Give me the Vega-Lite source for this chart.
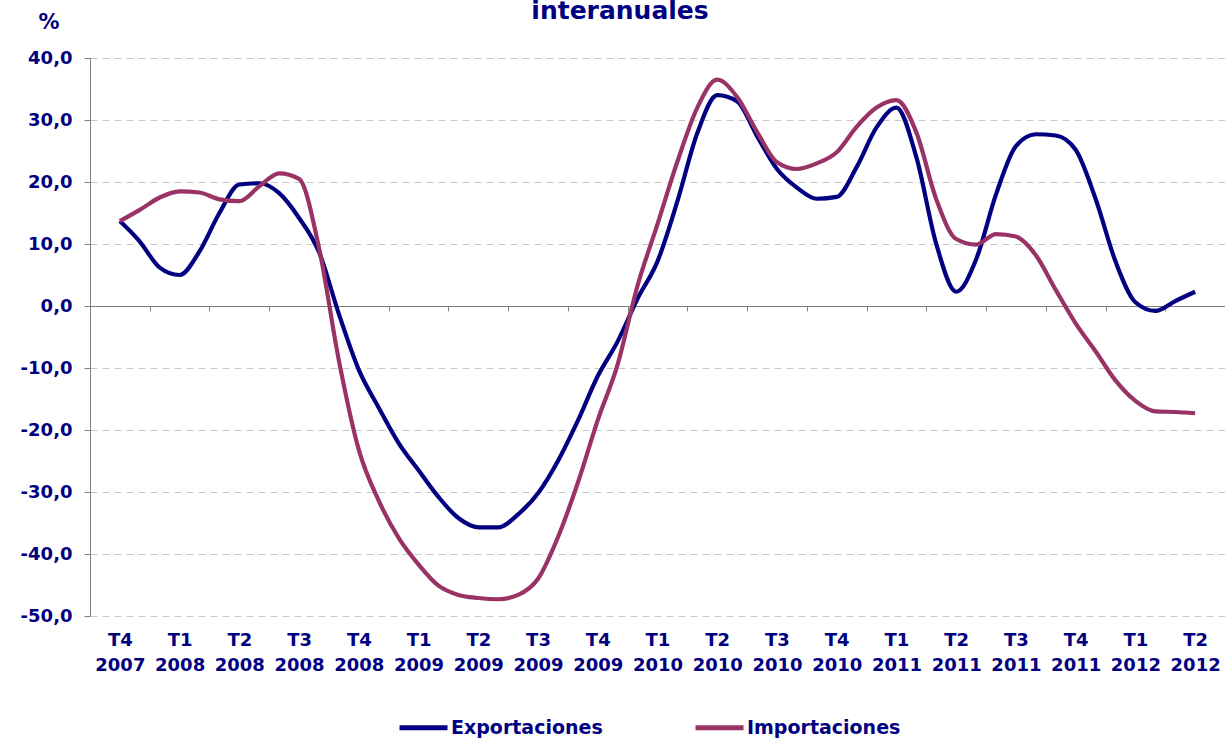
{
  "$schema": "https://vega.github.io/schema/vega-lite/v6.json",
  "autosize": {"type": "none"},
  "width": 1135,
  "height": 558,
  "padding": {"left": 90, "top": 58, "right": 0, "bottom": 122},
  "background": "white",
  "config": {"view": {"stroke": null}, "font": "DejaVu Sans"},
  "title": {
    "text": "interanuales",
    "anchor": "middle",
    "frame": "group",
    "dx": -37.5,
    "offset": -33,
    "baseline": "alphabetic",
    "font": "DejaVu Sans",
    "fontSize": 25,
    "fontWeight": "bold",
    "color": "#000080"
  },
  "data": {"values": [
    {"mes":0,"serie":"Exportaciones","valor":13.7},{"mes":1,"serie":"Exportaciones","valor":10.4},{"mes":2,"serie":"Exportaciones","valor":6.2},{"mes":3,"serie":"Exportaciones","valor":5.0},{"mes":4,"serie":"Exportaciones","valor":8.8},{"mes":5,"serie":"Exportaciones","valor":15.0},{"mes":6,"serie":"Exportaciones","valor":19.6},{"mes":7,"serie":"Exportaciones","valor":19.8},{"mes":8,"serie":"Exportaciones","valor":18.2},{"mes":9,"serie":"Exportaciones","valor":14.2},{"mes":10,"serie":"Exportaciones","valor":8.7},{"mes":11,"serie":"Exportaciones","valor":-1.3},{"mes":12,"serie":"Exportaciones","valor":-10.3},{"mes":13,"serie":"Exportaciones","valor":-16.4},{"mes":14,"serie":"Exportaciones","valor":-22.1},{"mes":15,"serie":"Exportaciones","valor":-26.5},{"mes":16,"serie":"Exportaciones","valor":-30.8},{"mes":17,"serie":"Exportaciones","valor":-34.2},{"mes":18,"serie":"Exportaciones","valor":-35.7},{"mes":19,"serie":"Exportaciones","valor":-35.7},{"mes":20,"serie":"Exportaciones","valor":-33.6},{"mes":21,"serie":"Exportaciones","valor":-30.2},{"mes":22,"serie":"Exportaciones","valor":-25.0},{"mes":23,"serie":"Exportaciones","valor":-18.5},{"mes":24,"serie":"Exportaciones","valor":-11.3},{"mes":25,"serie":"Exportaciones","valor":-5.7},{"mes":26,"serie":"Exportaciones","valor":1.2},{"mes":27,"serie":"Exportaciones","valor":7.2},{"mes":28,"serie":"Exportaciones","valor":16.9},{"mes":29,"serie":"Exportaciones","valor":27.9},{"mes":30,"serie":"Exportaciones","valor":34.0},{"mes":31,"serie":"Exportaciones","valor":33.0},{"mes":32,"serie":"Exportaciones","valor":27.4},{"mes":33,"serie":"Exportaciones","valor":22.1},{"mes":34,"serie":"Exportaciones","valor":19.1},{"mes":35,"serie":"Exportaciones","valor":17.3},{"mes":36,"serie":"Exportaciones","valor":17.6},{"mes":37,"serie":"Exportaciones","valor":22.4},{"mes":38,"serie":"Exportaciones","valor":28.8},{"mes":39,"serie":"Exportaciones","valor":32.0},{"mes":40,"serie":"Exportaciones","valor":24.0},{"mes":41,"serie":"Exportaciones","valor":10.0},{"mes":42,"serie":"Exportaciones","valor":2.3},{"mes":43,"serie":"Exportaciones","valor":7.5},{"mes":44,"serie":"Exportaciones","valor":18.0},{"mes":45,"serie":"Exportaciones","valor":25.8},{"mes":46,"serie":"Exportaciones","valor":27.7},{"mes":47,"serie":"Exportaciones","valor":27.5},{"mes":48,"serie":"Exportaciones","valor":25.2},{"mes":49,"serie":"Exportaciones","valor":17.3},{"mes":50,"serie":"Exportaciones","valor":7.2},{"mes":51,"serie":"Exportaciones","valor":0.6},{"mes":52,"serie":"Exportaciones","valor":-0.8},{"mes":53,"serie":"Exportaciones","valor":0.8},{"mes":54,"serie":"Exportaciones","valor":2.3},
    {"mes":0,"serie":"Importaciones","valor":13.7},{"mes":1,"serie":"Importaciones","valor":15.5},{"mes":2,"serie":"Importaciones","valor":17.5},{"mes":3,"serie":"Importaciones","valor":18.5},{"mes":4,"serie":"Importaciones","valor":18.3},{"mes":5,"serie":"Importaciones","valor":17.2},{"mes":6,"serie":"Importaciones","valor":16.9},{"mes":7,"serie":"Importaciones","valor":19.3},{"mes":8,"serie":"Importaciones","valor":21.4},{"mes":9,"serie":"Importaciones","valor":20.5},{"mes":10,"serie":"Importaciones","valor":9.4},{"mes":11,"serie":"Importaciones","valor":-8.8},{"mes":12,"serie":"Importaciones","valor":-23.2},{"mes":13,"serie":"Importaciones","valor":-31.4},{"mes":14,"serie":"Importaciones","valor":-37.4},{"mes":15,"serie":"Importaciones","valor":-41.7},{"mes":16,"serie":"Importaciones","valor":-45.1},{"mes":17,"serie":"Importaciones","valor":-46.6},{"mes":18,"serie":"Importaciones","valor":-47.1},{"mes":19,"serie":"Importaciones","valor":-47.3},{"mes":20,"serie":"Importaciones","valor":-46.6},{"mes":21,"serie":"Importaciones","valor":-44.0},{"mes":22,"serie":"Importaciones","valor":-37.3},{"mes":23,"serie":"Importaciones","valor":-28.5},{"mes":24,"serie":"Importaciones","valor":-18.4},{"mes":25,"serie":"Importaciones","valor":-9.4},{"mes":26,"serie":"Importaciones","valor":3.3},{"mes":27,"serie":"Importaciones","valor":13.2},{"mes":28,"serie":"Importaciones","valor":23.3},{"mes":29,"serie":"Importaciones","valor":32.0},{"mes":30,"serie":"Importaciones","valor":36.5},{"mes":31,"serie":"Importaciones","valor":33.7},{"mes":32,"serie":"Importaciones","valor":28.1},{"mes":33,"serie":"Importaciones","valor":23.2},{"mes":34,"serie":"Importaciones","valor":22.1},{"mes":35,"serie":"Importaciones","valor":23.0},{"mes":36,"serie":"Importaciones","valor":24.8},{"mes":37,"serie":"Importaciones","valor":28.9},{"mes":38,"serie":"Importaciones","valor":32.0},{"mes":39,"serie":"Importaciones","valor":33.2},{"mes":40,"serie":"Importaciones","valor":28.0},{"mes":41,"serie":"Importaciones","valor":17.2},{"mes":42,"serie":"Importaciones","valor":10.8},{"mes":43,"serie":"Importaciones","valor":9.9},{"mes":44,"serie":"Importaciones","valor":11.6},{"mes":45,"serie":"Importaciones","valor":11.2},{"mes":46,"serie":"Importaciones","valor":8.2},{"mes":47,"serie":"Importaciones","valor":2.6},{"mes":48,"serie":"Importaciones","valor":-2.8},{"mes":49,"serie":"Importaciones","valor":-7.3},{"mes":50,"serie":"Importaciones","valor":-12.0},{"mes":51,"serie":"Importaciones","valor":-15.3},{"mes":52,"serie":"Importaciones","valor":-17.0},{"mes":53,"serie":"Importaciones","valor":-17.1},{"mes":54,"serie":"Importaciones","valor":-17.3}
  ]},
  "mark": {"type": "line", "strokeWidth": 4.2, "interpolate": "monotone"},
  "encoding": {
    "x": {
      "field": "mes",
      "type": "quantitative",
      "scale": {"domain": [-1.5, 55.5], "nice": false, "zero": false},
      "axis": {
        "title": null,
        "values": [0,3,6,9,12,15,18,21,24,27,30,33,36,39,42,45,48,51,54],
        "offset": -310,
        "grid": false,
        "domain": true,
        "domainColor": "#808080",
        "domainWidth": 1,
        "ticks": true,
        "tickColor": "#808080",
        "tickSize": 5,
        "tickOffset": -29.87,
        "labelOffset": 29.87,
        "labelPadding": 320,
        "labelExpr": "['T' + (((datum.value/3 + 3) % 4) + 1), '' + (2007 + floor((datum.value/3 + 3)/4))]",
        "labelFont": "DejaVu Sans",
        "labelFontSize": 18,
        "labelFontWeight": "bold",
        "labelColor": "#000080",
        "labelLineHeight": 25,
        "labelAlign": "center",
        "labelBaseline": "top",
        "labelFlush": false,
        "labelOverlap": false
      }
    },
    "y": {
      "field": "valor",
      "type": "quantitative",
      "scale": {"domain": [-50, 40], "nice": false, "zero": false},
      "axis": {
        "values": [-50,-40,-30,-20,-10,0,10,20,30,40],
        "title": "%",
        "titleAngle": 0,
        "titleX": -41.5,
        "titleY": -30,
        "titleAlign": "center",
        "titleBaseline": "alphabetic",
        "titleFont": "DejaVu Sans",
        "titleFontSize": 21,
        "titleFontWeight": "bold",
        "titleColor": "#000080",
        "grid": true,
        "gridColor": "#c8c8c8",
        "gridDash": [7, 5],
        "gridWidth": 1,
        "domain": true,
        "domainColor": "#808080",
        "ticks": true,
        "tickColor": "#808080",
        "tickSize": 6,
        "labelPadding": 12,
        "labelExpr": "replace((datum.value < 0 ? '-' : '') + format(abs(datum.value), '.1f'), '.', ',')",
        "labelFont": "DejaVu Sans",
        "labelFontSize": 18,
        "labelFontWeight": "bold",
        "labelColor": "#000080"
      }
    },
    "color": {
      "field": "serie",
      "type": "nominal",
      "scale": {"domain": ["Exportaciones", "Importaciones"], "range": ["#000080", "#993366"]},
      "legend": {
        "title": null,
        "orient": "none",
        "direction": "horizontal",
        "legendX": 307,
        "legendY": 643,
        "padding": 0,
        "symbolType": "stroke",
        "symbolSize": 2304,
        "symbolStrokeWidth": 5,
        "labelOffset": 1,
        "columnPadding": 82,
        "labelFont": "DejaVu Sans",
        "labelFontSize": 19,
        "labelFontWeight": "bold",
        "labelColor": "#000080"
      }
    }
  }
}
